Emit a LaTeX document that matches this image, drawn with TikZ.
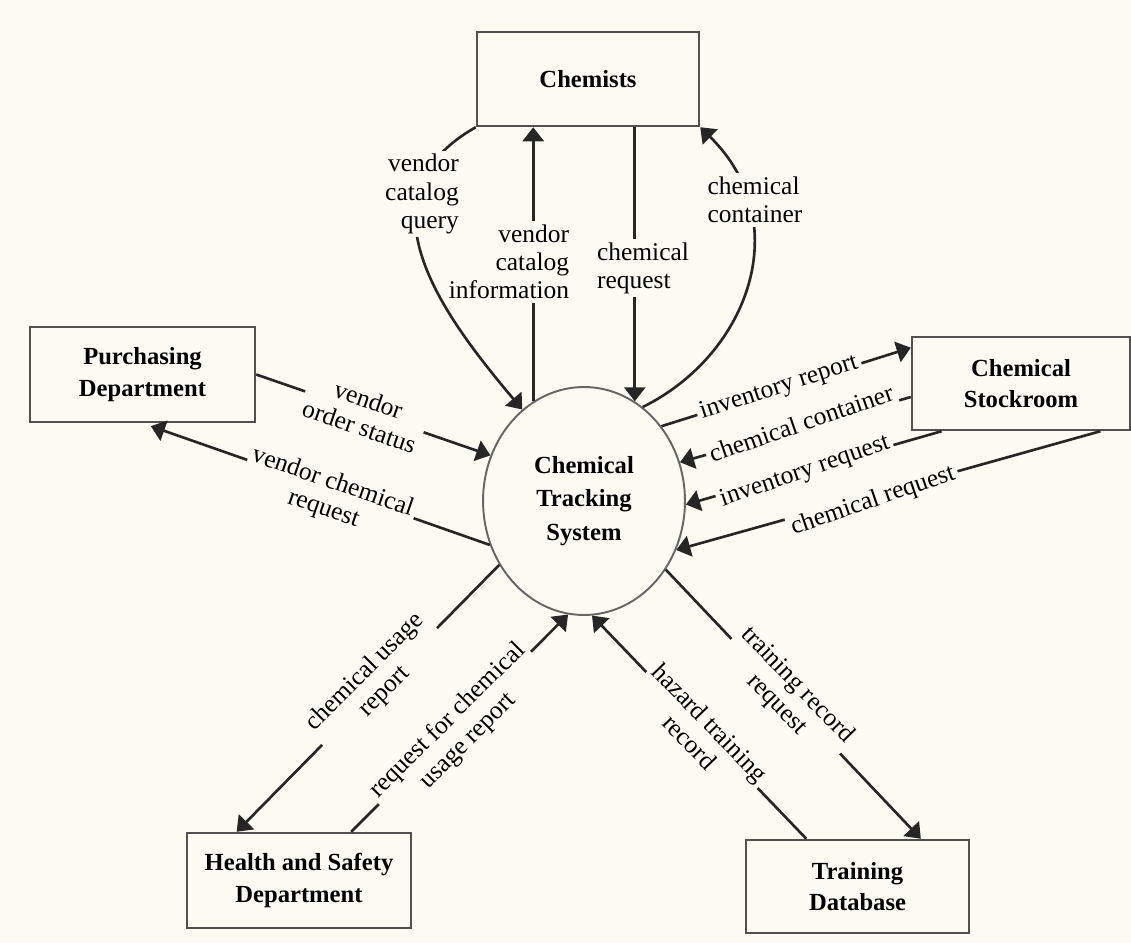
\documentclass[tikz,border=0pt]{standalone}
\usepackage{fontspec}
\setmainfont{Liberation Serif}
\usetikzlibrary{arrows.meta,shapes.geometric}
\definecolor{paper}{RGB}{251,251,243}
\definecolor{ink}{RGB}{38,38,38}

\begin{document}
\begin{tikzpicture}[x=0.02cm,y=-0.02cm,
    entity/.style={draw=ink!80,line width=1.4pt,rectangle,align=center,
        font=\fontsize{14pt}{18pt}\selectfont\bfseries},
    process/.style={draw=black!60,line width=1.1pt,ellipse,align=center,
        minimum width=4.04cm,minimum height=4.56cm,
        font=\fontsize{14pt}{19pt}\selectfont\bfseries},
    flow/.style={draw=ink,line width=1.5pt,-{Triangle[length=8pt,width=12pt]}},
    lbl/.style={fill=paper,inner sep=2pt,align=center,
        font=\fontsize{14.5pt}{16pt}\selectfont}]
    \fill[paper] (0,0) rectangle (1131,942);
    \useasboundingbox (0,0) rectangle (1131,942);

    % process and external entities
    \node[process] (ctsys) at (584,501) {Chemical\\Tracking\\System};
    \node[entity,minimum width=4.44cm,minimum height=1.88cm] (chem) at (588,79) {Chemists};
    \node[entity,minimum width=4.5cm,minimum height=1.9cm] (purch) at (142.5,374.5) {Purchasing\\Department};
    \node[entity,minimum width=4.36cm,minimum height=1.86cm] (stock) at (1021,383.5) {Chemical\\Stockroom};
    \node[entity,minimum width=4.48cm,minimum height=1.9cm] (hs) at (299,880.5) {Health and Safety\\Department};
    \node[entity,minimum width=4.46cm,minimum height=1.86cm] (train) at (857.5,886.5) {Training\\Database};

    % chemists
    \draw[flow] (chem.south west) .. controls +(-122,69) and +(-80,-95) .. (ctsys.124);
    \draw[flow] (ctsys.117.4) -- (ctsys.117.4 |- chem.south);
    \draw[flow] (chem.south -| ctsys.63.8) -- (ctsys.63.8);
    \draw[flow] (ctsys.58.4) .. controls +(107,-53) and +(96,94) .. (chem.south east);

    % stockroom
    \draw[flow] (ctsys.44.6) -- (stock.162);
    \draw[flow] (stock.187) -- (ctsys.22);
    \draw[flow] (stock.211.5) -- (ctsys.-2);
    \draw[flow] (stock.-31) -- (ctsys.-28);

    % purchasing
    \draw[flow] (purch.east) -- (ctsys.154.6);
    \draw[flow,shorten >=5pt] (ctsys.205.4) -- (purch.south);

    % health and safety, training
    \draw[flow] (ctsys.217.2) -- (hs.142);
    \draw[flow] (hs.43) -- (ctsys.262.6);
    \draw[flow] (train.137) -- (ctsys.-86.3);
    \draw[flow] (ctsys.-40.5) -- (train.37);

    % flow labels
    \node[lbl,align=right] (lInfo) at (509,262) {vendor\\catalog\\information};
    \node[lbl,align=right] (lQuery) at (422,194) {vendor\\catalog\\query};
    \node[lbl,align=left] (lReq) at (643,268) {chemical\\request};
    \node[lbl,align=left] (lCont) at (755,200) {chemical\\container};
    \node[lbl,rotate=18] (lInvRep) at (779,388) {inventory report};
    \node[lbl,rotate=19] (lChemCont) at (801,423) {chemical container};
    \node[lbl,rotate=19] (lInvReq) at (805,472) {inventory request};
    \node[lbl,rotate=19] (lChemReq) at (873,501) {chemical request};
    \node[lbl,rotate=-19] (lOrder) at (364,413) {vendor\\order status};
    \node[lbl,rotate=-19] (lVendReq) at (328,496) {vendor chemical\\request};
    \node[lbl,rotate=45] (lUsage) at (375,682) {chemical usage\\report};
    \node[lbl,rotate=45] (lUsageReq) at (458,731) {request for chemical\\usage report};
    \node[lbl,rotate=-46] (lHazard) at (700,732) {hazard training\\record};
    \node[lbl,rotate=-46] (lTrainReq) at (787,695) {training record\\request};
\end{tikzpicture}
\end{document}
